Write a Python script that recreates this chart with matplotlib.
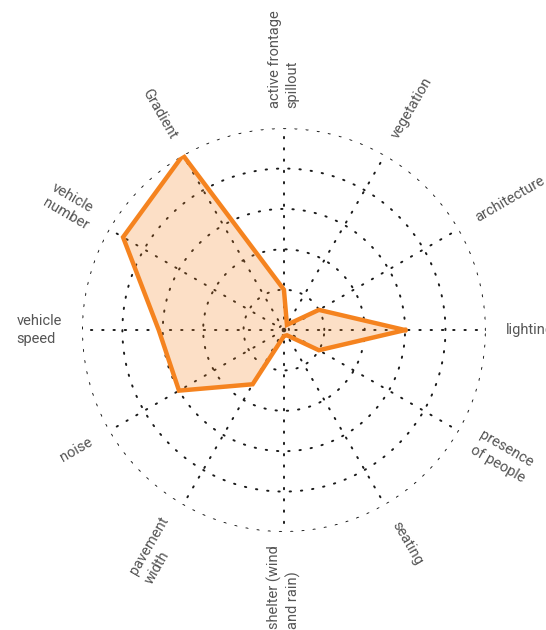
import numpy as np
import matplotlib
matplotlib.use("Agg")
import matplotlib.pyplot as plt

# data (0..1 scale)
categories = ["lighting", "architecture", "vegetation", "active frontage\nspillout",
              "Gradient", "vehicle\nnumber", "vehicle\nspeed", "noise",
              "pavement\nwidth", "shelter (wind\nand rain)", "seating", "presence\nof people"]
values = [0.6, 0.2, 0.03, 0.2, 1.0, 0.92, 0.62, 0.6, 0.31, 0.03, 0.03, 0.2]
ring_levels = [0.025, 0.2, 0.4, 0.6, 0.8, 1.0]

line_color = "#f5831f"
fill_color = "#f5831f"
text_color = "#555555"

plt.rcParams["font.family"] = ["Roboto", "DejaVu Sans"]

fig = plt.figure(figsize=(5.46, 6.3), dpi=100)
ax = fig.add_axes([0.150, 0.1556, 0.74, 0.641], projection="polar")
ax.set_ylim(0, 1)
ax.axis("off")

n = len(categories)
angles = np.arange(n) * 2 * np.pi / n

# dotted rings and spokes
t = np.linspace(0, 2 * np.pi, 400)
dots = (0, (0.7, 5.1))
for lvl in ring_levels:
    ax.plot(t, np.full_like(t, lvl), color="#1a1a1a", lw=1.4, ls=dots,
            dash_capstyle="round", zorder=1)
for a in angles:
    ax.plot([a, a], [0, 1], color="#1a1a1a", lw=1.4, ls=dots,
            dash_capstyle="round", zorder=1)

# data polygon
th = np.append(angles, angles[0])
vals = values + values[:1]
ax.fill(th, vals, color=fill_color, alpha=0.25, lw=0, zorder=2)
ax.plot(th, vals, color=line_color, lw=3.2, solid_joinstyle="miter", zorder=3)

# rotated axis labels
for a, lab in zip(angles, categories):
    deg = np.degrees(a)
    if 90 < deg <= 270:
        rot, ha = deg - 180, "right"
    else:
        rot, ha = deg, "left"
    r_lab = 1.065 if deg == 270 else 1.1
    ax.text(a, r_lab, lab, rotation=rot, rotation_mode="anchor", ha=ha, va="center",
            multialignment="left", fontsize=10.5, color=text_color,
            linespacing=1.3, clip_on=False)

fig.savefig("out.png", dpi=100)
